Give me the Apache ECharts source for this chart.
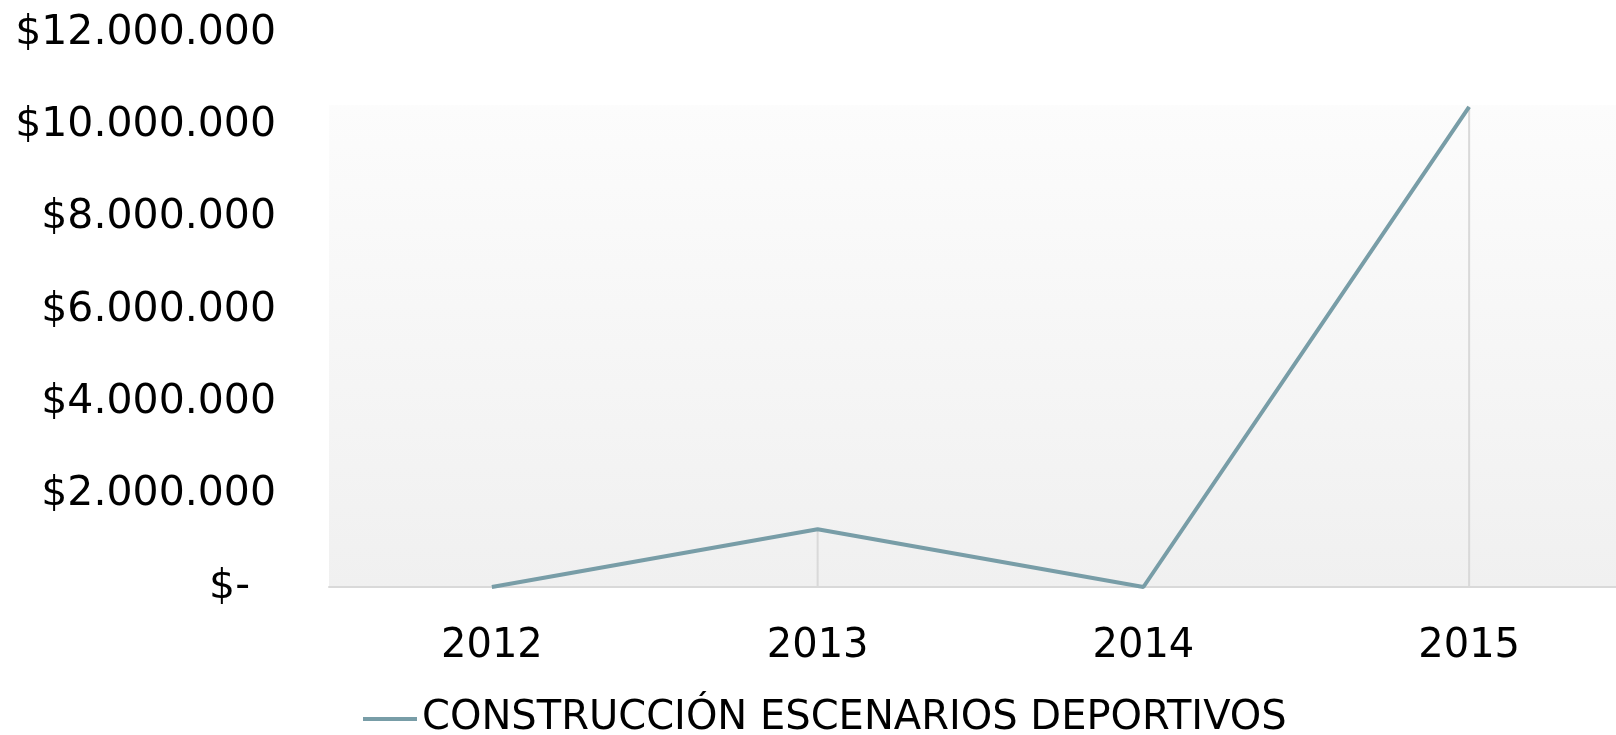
<!DOCTYPE html>
<html>
<head>
<meta charset="utf-8">
<script src="https://cdn.jsdelivr.net/npm/echarts@6/dist/echarts.min.js"></script>
<style>
  html, body { margin: 0; padding: 0; background: #fff; }
  #main { width: 1616px; height: 735px; }
</style>
</head>
<body>
<div id="main"></div>
<script>
var years = ['2012', '2013', '2014', '2015'];
var seriesName = 'CONSTRUCCIÓN ESCENARIOS DEPORTIVOS';
var values = [0, 1250000, 0, 10400000];
var yMin = 0, yMax = 12000000, yStep = 2000000;

function money(v) {
    if (v === 0) return '$-  ';
    return '$' + String(v).replace(/\B(?=(\d{3})+(?!\d))/g, '.');
}

var myChart = echarts.init(document.getElementById('main'));
var fontFam = '"DejaVu Sans", sans-serif';

option = {
    animation: false,
    grid: {
        left: 329,
        right: -16,
        top: 33,
        bottom: 148,
        outerBoundsMode: 'none',
        containLabel: false,
        show: true,
        borderWidth: 0,
        backgroundColor: new echarts.graphic.LinearGradient(0, 0, 0, 1, [
            { offset: 0, color: '#ffffff' },
            { offset: 0.13, color: '#ffffff' },
            { offset: 0.131, color: '#fcfcfc' },
            { offset: 1, color: '#f0f0f0' }
        ])
    },
    legend: {
        data: [{ name: seriesName, icon: 'rect' }],
        left: 358,
        top: 694,
        itemWidth: 54,
        itemHeight: 4,
        itemStyle: { color: '#789da7' },
        textStyle: { fontFamily: fontFam, fontSize: 40, color: '#000' }
    },
    xAxis: {
        type: 'category',
        data: years,
        axisLine: { lineStyle: { color: '#d9d9d9', width: 2 } },
        axisTick: { show: false },
        axisLabel: { fontFamily: fontFam, fontSize: 40, color: '#000', margin: 40 }
    },
    yAxis: {
        type: 'value',
        min: yMin,
        max: yMax,
        interval: yStep,
        axisLine: { show: false },
        axisTick: { show: false },
        splitLine: { show: false },
        axisLabel: { fontFamily: fontFam, fontSize: 41, color: '#000', margin: 53, formatter: money }
    },
    series: [{
        name: 'drop',
        type: 'bar',
        data: values,
        barWidth: 2,
        silent: true,
        z: 1,
        itemStyle: { color: '#d9d9d9' }
    }, {
        name: seriesName,
        type: 'line',
        data: values,
        symbol: 'none',
        z: 3,
        lineStyle: { color: '#789da7', width: 4 },
        itemStyle: { color: '#789da7' }
    }]
};

myChart.setOption(option);
</script>
</body>
</html>
